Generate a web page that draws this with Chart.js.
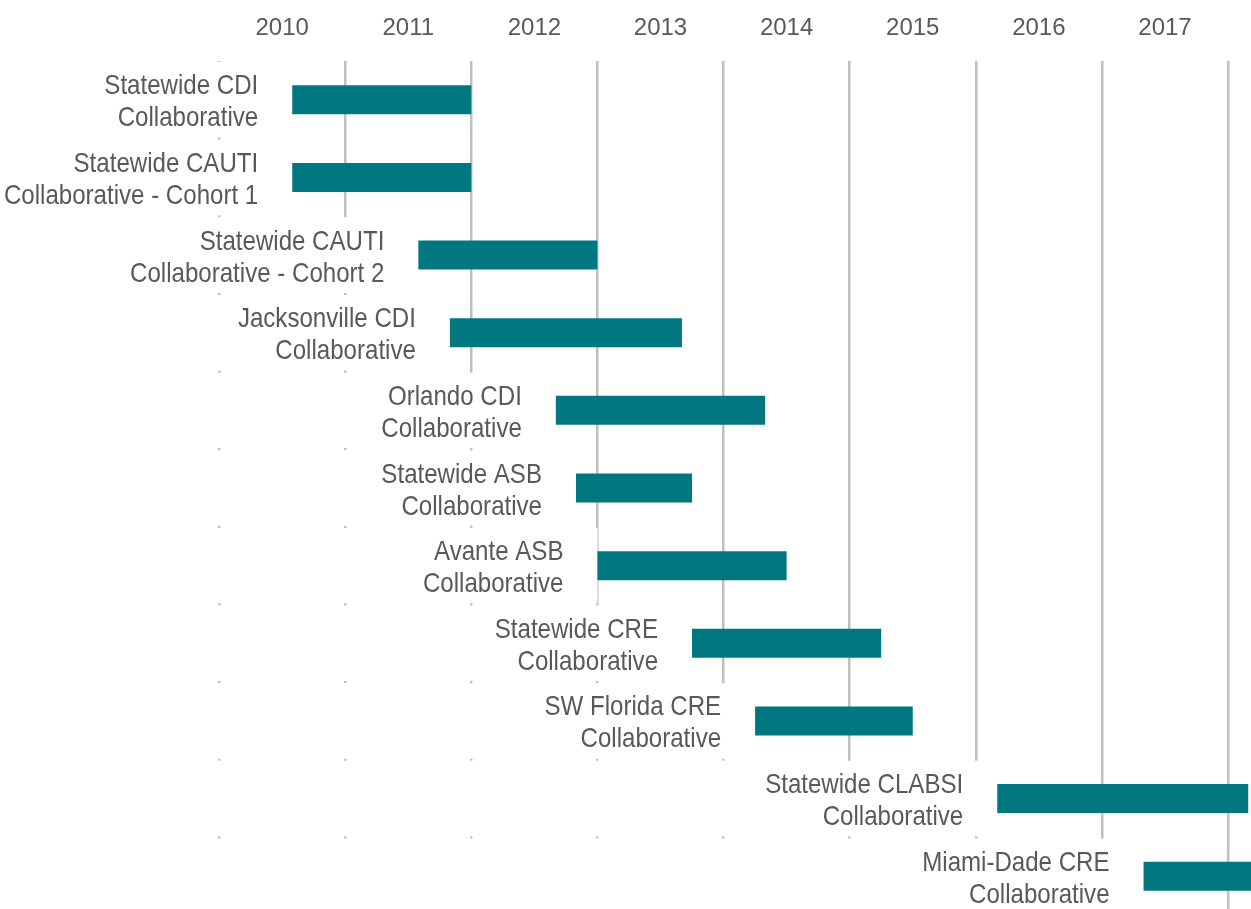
<!DOCTYPE html>
<html>
<head>
<meta charset="utf-8">
<script src="https://cdn.jsdelivr.net/npm/chart.js@4.4.1/dist/chart.umd.min.js"></script>
<style>
  html, body { margin: 0; padding: 0; background: #ffffff; overflow: hidden; }
  #wrap { position: relative; width: 1251px; height: 915px; }
</style>
</head>
<body>
<div id="wrap"><canvas id="chart"></canvas></div>
<script>
// ---- data ----
const programs = [
  ["Statewide CDI", "Collaborative"],
  ["Statewide CAUTI", "Collaborative - Cohort 1"],
  ["Statewide CAUTI", "Collaborative - Cohort 2"],
  ["Jacksonville CDI", "Collaborative"],
  ["Orlando CDI", "Collaborative"],
  ["Statewide ASB", "Collaborative"],
  ["Avante ASB", "Collaborative"],
  ["Statewide CRE", "Collaborative"],
  ["SW Florida CRE", "Collaborative"],
  ["Statewide CLABSI", "Collaborative"],
  ["Miami-Dade CRE", "Collaborative"]
];
const startYears = [2010.58, 2010.58, 2011.58, 2011.83, 2012.67, 2012.83, 2013.0, 2013.75, 2014.25, 2016.17, 2017.33];
const endYears   = [2012.0, 2012.0, 2013.0, 2013.67, 2014.33, 2013.75, 2014.5, 2015.25, 2015.5, 2018.16, 2018.6];
const yearLabels = ["2010", "2011", "2012", "2013", "2014", "2015", "2016", "2017"];
const gridYears  = [2010, 2011, 2012, 2013, 2014, 2015, 2016, 2017, 2018];
const axisMin = 2008.263;
const axisMax = 2018.182;

// ---- font detection ----
function hasFont(name) {
  const c = document.createElement('canvas').getContext('2d');
  const s = 'Collaborative 2010 Wm';
  c.font = '40px monospace';
  const a = c.measureText(s).width;
  c.font = '40px "' + name + '", monospace';
  const b = c.measureText(s).width;
  return Math.abs(a - b) > 0.5;
}
const narrow = hasFont('Liberation Sans Narrow') ? 'Liberation Sans Narrow'
             : (hasFont('Arial Narrow') ? 'Arial Narrow' : null);
const labelFamily = narrow || 'Liberation Sans';
const labelSize = narrow ? 29 : 28;
const labelScaleX = narrow ? 1 : 0.86;
const tickFamily = narrow || 'Liberation Sans';
const tickSize = narrow ? 29 : 24;

const TEXT = '#595959';
const TEAL = '#017880';
const GRID = '#bfbfbf';
const LABEL_GAP = 34;

const barLabels = {
  id: 'barLabels',
  afterDatasetsDraw(chart) {
    const ctx = chart.ctx;
    const xs = chart.scales.x, ys = chart.scales.y;
    ctx.save();
    ctx.fillStyle = TEXT;
    ctx.textAlign = 'right';
    ctx.textBaseline = 'alphabetic';
    ctx.font = labelSize + 'px "' + labelFamily + '"';
    programs.forEach((lines, i) => {
      const xr = xs.getPixelForValue(startYears[i]) - LABEL_GAP;
      const yc = ys.getPixelForValue(i);
      lines.forEach((t, j) => {
        const y = yc - 5.5 + j * 32;
        ctx.save();
        ctx.translate(xr, y);
        ctx.scale(labelScaleX, 1);
        ctx.fillText(t, 0, 0);
        ctx.restore();
      });
    });
    ctx.restore();
  }
};

new Chart(document.getElementById('chart'), {
  type: 'bar',
  data: {
    labels: programs.map(p => p.join(' ')),
    datasets: [
      {
        label: 'Duration',
        data: startYears.map((s, i) => [s, endYears[i]]),
        backgroundColor: TEAL,
        borderWidth: 0,
        grouped: false,
        categoryPercentage: 1,
        barPercentage: 0.3735,
        order: 1
      },
      {
        label: 'Offset',
        data: startYears.map(s => [axisMin, s]),
        backgroundColor: '#ffffff',
        borderWidth: 0,
        grouped: false,
        categoryPercentage: 1,
        barPercentage: 0.972,
        order: 2
      }
    ]
  },
  options: {
    indexAxis: 'y',
    responsive: true,
    maintainAspectRatio: false,
    animation: false,
    layout: { padding: 0 },
    plugins: { legend: { display: false }, tooltip: { enabled: false } },
    scales: {
      x: {
        type: 'linear',
        position: 'top',
        min: axisMin,
        max: axisMax,
        border: { display: false },
        grid: {
          drawTicks: false,
          lineWidth: 2.5,
          color: (c) => (c.tick && Number.isInteger(c.tick.value)) ? GRID : 'rgba(0,0,0,0)'
        },
        afterBuildTicks: (scale) => {
          const t = [];
          gridYears.forEach(v => t.push({ value: v }));
          yearLabels.forEach(l => t.push({ value: Number(l) + 0.5 }));
          t.sort((a, b) => a.value - b.value);
          scale.ticks = t;
        },
        afterFit: (scale) => { scale.height = 61; },
        ticks: {
          autoSkip: false,
          maxRotation: 0,
          minRotation: 0,
          padding: 18,
          color: TEXT,
          font: { family: tickFamily, size: tickSize },
          callback: (value) => {
            if (Number.isInteger(value)) return '';
            const l = yearLabels.find(y => Number(y) === Math.floor(value));
            return l || '';
          }
        }
      },
      y: {
        display: false,
        grid: { display: false }
      }
    }
  },
  plugins: [barLabels]
});
</script>
</body>
</html>
